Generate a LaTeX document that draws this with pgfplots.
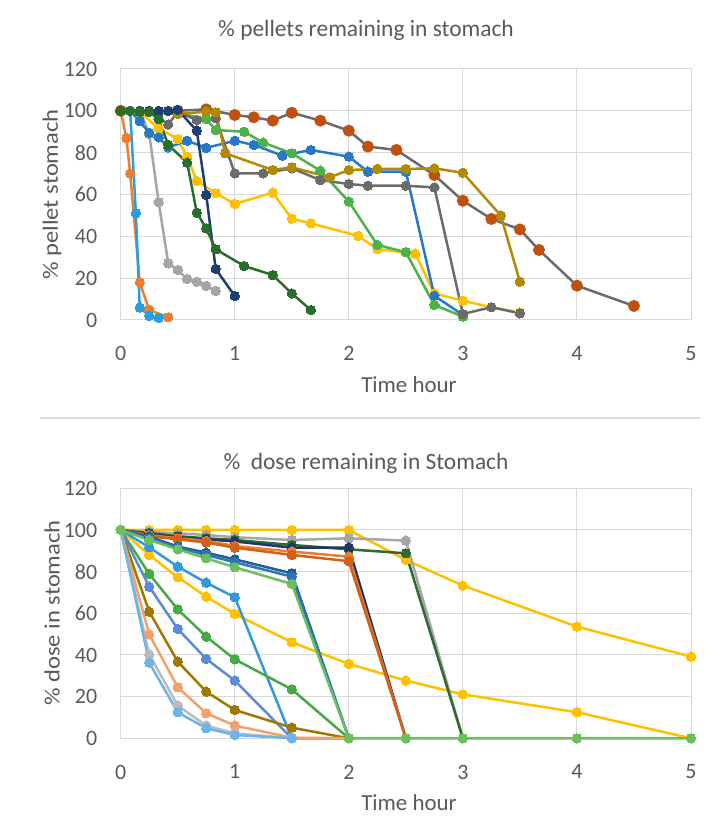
\documentclass[border=0pt]{standalone}
\usepackage{pgfplots}
\pgfplotsset{compat=1.18}
\usepackage{fontspec}
\setmainfont{Carlito}
\definecolor{txt}{HTML}{595959}
\definecolor{grd}{HTML}{D9D9D9}
% top colours
\definecolor{cOrange}{HTML}{ED7D31}
\definecolor{cLBlue}{HTML}{2A9FE0}
\definecolor{cLGray}{HTML}{A5A5A5}
\definecolor{cYellow}{HTML}{FFC000}
\definecolor{cBlue}{HTML}{2878C8}
\definecolor{cGreen}{HTML}{4CB24A}
\definecolor{cDGray}{HTML}{6B6B6B}
\definecolor{cRust}{HTML}{C0500F}
\definecolor{cGold}{HTML}{B08A00}
\definecolor{cNavy}{HTML}{1F3F70}
\definecolor{cDGreen}{HTML}{2A6E2A}
% bottom colours
\definecolor{bCyan}{HTML}{3399DD}
\definecolor{bGreen}{HTML}{44AA44}
\definecolor{bMBlue}{HTML}{5B8BD6}
\definecolor{bBrown}{HTML}{9E7800}
\definecolor{bSalmon}{HTML}{F4A06A}
\definecolor{bLGray}{HTML}{BBBBBB}
\definecolor{bSky}{HTML}{6DB5E6}
\definecolor{bGray}{HTML}{A5A5A5}
\definecolor{bDGreen}{HTML}{2E6B2E}
\definecolor{bNavy}{HTML}{1F3864}
\definecolor{bOrange}{HTML}{ED7D31}
\definecolor{bDOrange}{HTML}{D35F1A}
\definecolor{bDBlue}{HTML}{1F5F99}
\definecolor{bBlue}{HTML}{2E75B6}
\definecolor{bLGreen}{HTML}{6CBF5C}
\pgfplotsset{
  ser/.style={color=#1, line width=2.5bp, mark=*, mark size=4.7bp, mark options={solid, fill=#1, draw=#1, line width=0pt}},
  base/.style={
    scale only axis, width=570.3bp, anchor=south west,
    xmin=0, xmax=5, ymin=0, ymax=120,
    xtick={0,1,2,3,4,5}, ytick={0,20,40,60,80,100,120},
    grid=major, major grid style={grd, line width=1bp},
    axis line style={grd, line width=1bp},
    tick style={draw=none},
    /pgf/number format/assume math mode=true,
    tick label style={font=\fontsize{22}{25}\selectfont, text=txt},
    xticklabel style={yshift=-23bp},
    yticklabel style={xshift=-20bp},
    clip=false,
  }
}
\begin{document}
\begin{tikzpicture}
\path[use as bounding box] (0bp,0bp) rectangle (722bp,831bp);
% ---------- top chart ----------
\begin{axis}[base, at={(120.7bp,511bp)}, height=251bp]
\addplot[ser=cOrange] coordinates {(0,100)(0.05,87)(0.083,70)(0.167,18)(0.25,4.8)(0.417,1.3)};
\addplot[ser=cLBlue] coordinates {(0,100)(0.083,100)(0.133,51)(0.167,6)(0.25,2)(0.333,1)};
\addplot[ser=cLGray] coordinates {(0,100)(0.083,100)(0.167,100)(0.25,89)(0.333,56.3)(0.417,27.1)(0.5,23.9)(0.583,19.6)(0.667,18.3)(0.75,16.3)(0.833,13.9)};
\addplot[ser=cYellow] coordinates {(0,100)(0.083,100)(0.167,99.6)(0.333,91.6)(0.5,86.5)(0.583,78)(0.667,66.5)(0.833,60.6)(1,55.5)(1.333,60.9)(1.5,48.4)(1.667,46.2)(2.083,40.2)(2.25,33.9)(2.583,31.7)(2.75,12.7)(3,9.2)(3.25,6.1)(3.5,3.5)};
\addplot[ser=cBlue] coordinates {(0,100)(0.083,100)(0.167,95)(0.25,89.5)(0.333,87.3)(0.417,82.5)(0.583,85.7)(0.75,82.3)(1,85.7)(1.167,83.7)(1.417,78.6)(1.667,81.3)(2,78.1)(2.167,70.9)(2.5,70.9)(2.75,11.6)(3,2.4)};
\addplot[ser=cGreen] coordinates {(0,100)(0.25,100)(0.5,99)(0.75,96)(0.833,90.8)(1.083,90)(1.25,84.8)(1.5,79.7)(1.75,71.4)(2,56.6)(2.25,35.9)(2.5,32.4)(2.75,7.2)(3,1.6)};
\addplot[ser=cDGray] coordinates {(0,100)(0.25,100)(0.417,93.5)(0.5,99.5)(0.667,95.6)(0.833,96.5)(1,70.1)(1.25,70.1)(1.5,72.5)(1.75,66.9)(2,65)(2.167,64.2)(2.5,64.2)(2.75,63.4)(3,2.9)(3.25,6.1)(3.5,3.2)};
\addplot[ser=cDGray, mark options={fill=cRust, draw=cRust}] coordinates {(0,100)(0.5,100)(0.75,100.7)(1,98)(1.167,96.9)(1.333,95.3)(1.5,99.1)(1.75,95.3)(2,90.5)(2.167,82.9)(2.417,81.3)(2.75,69.3)(3,57)(3.25,48.3)(3.5,43.3)(3.667,33.5)(4,16.4)(4.5,6.7)};
\addplot[ser=cGold] coordinates {(0,100)(0.167,100)(0.5,98.5)(0.75,99.6)(0.833,99.3)(0.917,79.7)(1.333,71.7)(1.5,73)(1.833,68.2)(2,71.7)(2.25,72.2)(2.5,72.2)(2.75,72.5)(3,70.4)(3.333,49.9)(3.5,18.3)};
\addplot[ser=cNavy] coordinates {(0,100)(0.083,100)(0.167,100)(0.25,100)(0.333,100)(0.417,100)(0.5,100.5)(0.667,90.5)(0.75,59.8)(0.833,24.4)(1,11.5)};
\addplot[ser=cDGreen] coordinates {(0,100)(0.083,100)(0.167,99.5)(0.25,99.5)(0.333,96)(0.417,83.7)(0.583,75.2)(0.667,51.3)(0.75,43.8)(0.833,33.8)(1.083,25.8)(1.333,21.5)(1.5,12.7)(1.667,4.8)};
\end{axis}
% ---------- bottom chart ----------
\begin{axis}[base, at={(120.7bp,92.7bp)}, height=250bp]
\addplot[ser=cYellow] coordinates {(0,100)(0.25,100)(0.5,100)(0.75,100)(1,100)(1.5,100)(2,100)(2.5,85.6)(3,73.3)(4,53.6)(5,39.2)};
\addplot[ser=cYellow] coordinates {(0,100)(0.25,88)(0.5,77.3)(0.75,68)(1,59.7)(1.5,46.1)(2,35.7)(2.5,27.7)(3,21.1)(4,12.5)(5,0)};
\addplot[ser=bCyan] coordinates {(0,100)(0.25,91.7)(0.5,82.4)(0.75,74.7)(1,67.7)(1.5,0)(2,0)};
\addplot[ser=bGreen] coordinates {(0,100)(0.25,78.9)(0.5,61.9)(0.75,48.8)(1,37.9)(1.5,23.5)(2,0)};
\addplot[ser=bMBlue] coordinates {(0,100)(0.25,72.8)(0.5,52.5)(0.75,38.1)(1,27.7)(1.5,0)};
\addplot[ser=bBrown] coordinates {(0,100)(0.25,60.8)(0.5,36.8)(0.75,22.4)(1,13.6)(1.5,5.1)(2,0)};
\addplot[ser=bSalmon] coordinates {(0,100)(0.25,49.9)(0.5,24.5)(0.75,12)(1,6.1)(1.5,0.3)(2,0)};
\addplot[ser=bLGray] coordinates {(0,100)(0.25,40.3)(0.5,15.7)(0.75,6.1)(1,2.4)(1.5,0)};
\addplot[ser=bSky] coordinates {(0,100)(0.25,36.3)(0.5,12.5)(0.75,4.8)(1,1.6)(1.5,0)};
\addplot[ser=bGray] coordinates {(0,100)(0.25,99)(0.5,98.4)(0.75,97.6)(1,96.5)(1.5,95.2)(2,96)(2.5,94.9)(3,0)};
\addplot[ser=bDGreen] coordinates {(0,100)(0.25,98.5)(0.5,97)(0.75,96)(1,95.2)(1.5,92.8)(2,90.7)(2.5,88.8)(3,0)};
\addplot[ser=bNavy] coordinates {(0,100)(0.25,98)(0.5,96.5)(0.75,95.5)(1,94.5)(1.5,91.5)(2,91.5)(2.5,0)};
\addplot[ser=bOrange] coordinates {(0,100)(0.25,97.5)(0.5,96)(0.75,94.8)(1,92.3)(1.5,89.6)(2,87.2)(2.5,0)};
\addplot[ser=bDOrange] coordinates {(0,100)(0.25,97)(0.5,95.5)(0.75,94)(1,91.5)(1.5,88)(2,85)(2.5,0)};
\addplot[ser=bDBlue] coordinates {(0,100)(0.25,96.8)(0.5,92)(0.75,89.1)(1,85.9)(1.5,79.2)(2,0)};
\addplot[ser=bBlue] coordinates {(0,100)(0.25,96)(0.5,91.5)(0.75,88)(1,84.5)(1.5,77.6)(2,0)};
\addplot[ser=bLGreen] coordinates {(0,100)(0.25,95.2)(0.5,90.7)(0.75,86.4)(1,82.1)(1.5,74.1)(2,0)(2.5,0)(3,0)(4,0)(5,0)};
\end{axis}
% ---------- texts ----------
\begin{scope}[every node/.style={text=txt}]
\node[font=\fontsize{23.5}{27}\selectfont] at (366bp,801bp) {\% pellets remaining in stomach};
\node[font=\fontsize{22}{25}\selectfont, rotate=90] at (52bp,636.5bp) {\scalebox{1.12}[1]{\% pellet stomach}};
\node[font=\fontsize{23}{27}\selectfont] at (409bp,446bp) {Time hour};
\node[font=\fontsize{23.5}{27}\selectfont] at (366bp,368bp) {\%\ \ dose remaining in Stomach};
\node[font=\fontsize{22}{25}\selectfont, rotate=90] at (52bp,218bp) {\scalebox{1.12}[1]{\% dose in stomach}};
\node[font=\fontsize{23}{27}\selectfont] at (409bp,28bp) {Time hour};
\end{scope}
\draw[grd, line width=1.2bp] (40bp,413bp) -- (700bp,413bp);
\end{tikzpicture}
\end{document}
